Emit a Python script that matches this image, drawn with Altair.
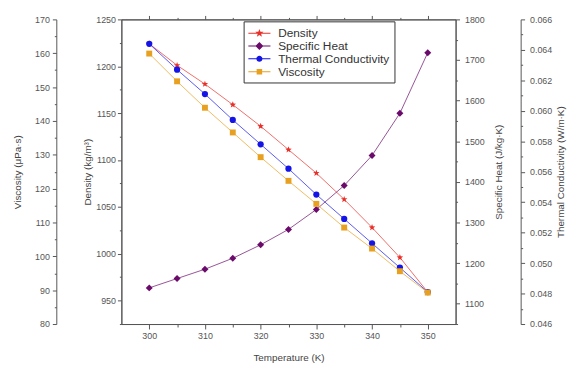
import math
import altair as alt
import pandas as pd

# ---- data ----
temps = [300, 305, 310, 315, 320, 325, 330, 335, 340, 345, 350]
density = [1224, 1201, 1181, 1159, 1136, 1111, 1086, 1058, 1028, 996, 959]
specific_heat = [1139, 1162, 1185, 1212, 1245, 1283, 1332, 1391, 1465, 1569, 1718]
thermal_cond = [0.0644, 0.0627, 0.0611, 0.0594, 0.0578, 0.0562, 0.0545, 0.0529, 0.0513, 0.0497, 0.0481]
viscosity = [159.9, 151.7, 143.9, 136.6, 129.3, 122.3, 115.5, 108.5, 102.3, 95.6, 89.3]

series_names = ["Density", "Specific Heat", "Thermal Conductivity", "Viscosity"]
point_colors = ["#e8302a", "#6a0a6a", "#1414e6", "#e8a020"]

df = pd.DataFrame({
    "T": temps,
    "density": density,
    "cp": specific_heat,
    "k": thermal_cond,
    "mu": viscosity,
})

FONT = "Liberation Sans"


def cond(major_test, major, minor):
    return {"condition": {"test": major_test, "value": major}, "value": minor}


# ---- marker / legend symbol paths ----
def star_path(R):
    pts = []
    for i in range(10):
        r = R if i % 2 == 0 else R * 0.42
        a = math.radians(-90 + i * 36)
        pts.append((r * math.cos(a), r * math.sin(a)))
    return "M" + "L".join(f"{x:.3f},{y:.3f}" for x, y in pts) + "Z"


line_p = "M-1.6,-0.07L1.6,-0.07L1.6,0.07L-1.6,0.07Z"
legend_paths = [
    line_p + star_path(0.62),
    line_p + "M0,-0.58L0.58,0L0,0.58L-0.58,0Z",
    line_p + "M0.44,0A0.44,0.44 0 1,1 -0.44,0A0.44,0.44 0 1,1 0.44,0Z",
    line_p + "M-0.4,-0.4L0.4,-0.4L0.4,0.4L-0.4,0.4Z",
]

x_values = list(range(300, 351, 5))


def x_axis(kind):
    if kind == "bottom":
        return alt.Axis(
            orient="bottom", values=x_values,
            labelExpr="datum.value % 10 === 0 ? datum.label : ''",
            tickSize=cond("datum.value % 10 === 0", 5, 3),
            title="Temperature (K)", titlePadding=12, labelPadding=3,
        )
    if kind == "top":
        return alt.Axis(
            orient="top", values=x_values, labels=False, title=None,
            tickSize=cond("datum.value % 10 === 0", 4, 2),
        )
    return None


def series_layer(field, color, shape, size, ydomain, yaxis, xkind):
    def enc():
        return dict(
            x=alt.X("T:Q", scale=alt.Scale(domain=[295, 355], nice=False, zero=False), axis=x_axis(xkind)),
            y=alt.Y(f"{field}:Q", scale=alt.Scale(domain=ydomain, nice=False, zero=False), axis=yaxis),
        )
    line = alt.Chart(df).mark_line(color=color, strokeWidth=1, opacity=0.7).encode(**enc())
    pts = alt.Chart(df).mark_point(shape=shape, filled=True, color=color, size=size, opacity=1).encode(**enc())
    return alt.layer(line, pts)


dens_axis = alt.Axis(
    orient="left", offset=0, values=list(range(925, 1251, 25)),
    labelExpr="datum.value % 50 === 0 ? datum.label : ''",
    tickSize=cond("datum.value % 50 === 0", 4, 2),
    format="d", title="Density (kg/m³)", titlePadding=3, labelPadding=2,
)
visc_axis = alt.Axis(
    orient="left", offset=66, values=list(range(80, 171, 5)),
    labelExpr="datum.value % 10 === 0 ? datum.label : ''",
    tickSize=cond("datum.value % 10 === 0", 4, 2),
    format="d", title="Viscosity (μPa·s)", titlePadding=12, labelPadding=3,
)
cp_axis = alt.Axis(
    orient="right", offset=0, values=list(range(1050, 1801, 50)),
    labelExpr="datum.value % 100 === 0 ? datum.label : ''",
    tickSize=cond("datum.value % 100 === 0", 4, 2),
    format="d", title="Specific Heat (J/kg·K)", titleAngle=270, titleBaseline="top",
    titlePadding=10, labelPadding=5,
)
k_axis = alt.Axis(
    orient="right", offset=66, values=[round(0.046 + i * 0.001, 3) for i in range(21)],
    labelExpr="round(datum.value * 1000) % 2 === 0 ? datum.label : ''",
    tickSize=cond("round(datum.value * 1000) % 2 === 0", 4, 2),
    format=".3f", title="Thermal Conductivity (W/m·K)", titleAngle=270, titleBaseline="top",
    titlePadding=4, labelPadding=5,
)

dens_layer = series_layer("density", point_colors[0], star_path(1.0), 48, [925, 1250], dens_axis, "bottom")
cp_layer = series_layer("cp", point_colors[1], "diamond", 50, [1050, 1800], cp_axis, None)
k_layer = series_layer("k", point_colors[2], "circle", 40, [0.046, 0.066], k_axis, None)
visc_layer = series_layer("mu", point_colors[3], "square", 36, [80, 170], visc_axis, "top")

legend_df = pd.DataFrame({"series": series_names})
leg = alt.Legend(
    orient="none", legendX=124, legendY=2, title=None,
    strokeColor="#333", fillColor="white", padding=5,
    symbolSize=196, symbolOpacity=1, symbolStrokeWidth=0,
    symbolOffset=4, labelOffset=12, rowPadding=0,
    labelFontSize=12, labelColor="#333", labelFont=FONT,
)
legend_layer = alt.Chart(legend_df).mark_point(filled=True, opacity=0, size=1).encode(
    color=alt.Color("series:N", scale=alt.Scale(domain=series_names, range=point_colors), legend=leg),
    shape=alt.Shape("series:N", scale=alt.Scale(domain=series_names, range=legend_paths), legend=leg),
)

chart = (
    alt.layer(dens_layer, cp_layer, k_layer, visc_layer, legend_layer)
    .resolve_scale(y="independent")
    .properties(
        width=339, height=309,
        autosize=alt.AutoSizeParams(type="none"),
        padding={"left": 115, "top": 9, "right": 113, "bottom": 39},
    )
    .configure_view(stroke="#555", strokeWidth=1)
    .configure_axis(
        grid=False, domainColor="#555", tickColor="#555",
        labelColor="#555", titleColor="#444",
        labelFont=FONT, titleFont=FONT, labelFontSize=9, titleFontSize=10,
        titleFontWeight="normal",
    )
)

chart.save("out.html", embed_options={"renderer": "svg", "actions": False})
